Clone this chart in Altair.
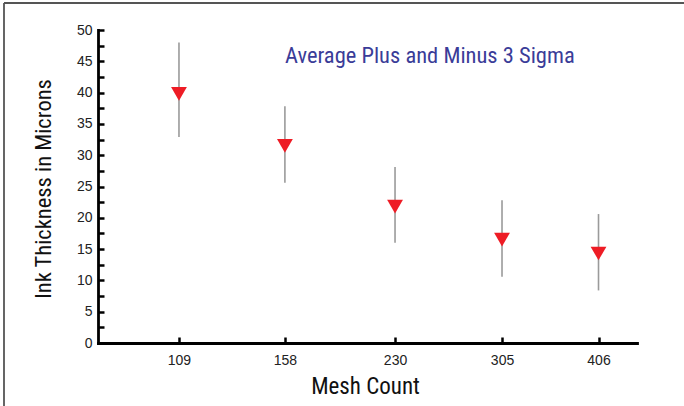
import json
import altair as alt
import pandas as pd

# ---- data ----
mesh_labels = ["109", "158", "230", "305", "406"]
x_slots = [1.0, 2.01, 3.06, 4.08, 5.0]          # category slot positions
avg = [39.8, 31.5, 21.8, 16.5, 14.3]
low = [32.9, 25.6, 16.0, 10.6, 8.4]
high = [48.0, 37.8, 28.1, 22.8, 20.6]
y_label_values = [0, 5, 10, 15, 20, 25, 30, 35, 40, 45, 50]
y_tick_values = [v / 2 for v in range(0, 101, 5)]

df = pd.DataFrame({"slot": x_slots, "mesh": mesh_labels, "avg": avg, "low": low, "high": high})

W, H = 539, 313
FONT = "Liberation Sans Narrow, Arial Narrow, Roboto Condensed, Liberation Sans, sans-serif"
LFONT = "Liberation Sans, Arial, sans-serif"

xscale = alt.Scale(domain=[0.228, 5.367], nice=False, zero=False)
yscale = alt.Scale(domain=[0, 50], nice=False)

label_expr = f"{json.dumps(mesh_labels)}[round(datum.value) - 1]"

base = alt.Chart(df)

whiskers = base.mark_rule(color="#9a9a9a", strokeWidth=1.6).encode(
    x=alt.X("slot:Q", scale=xscale,
            axis=alt.Axis(orient="top", offset=-H, values=x_slots, labels=False,
                          ticks=True, tickSize=6, tickWidth=2.5, tickColor="#000",
                          domain=False, grid=False, title=None)),
    y=alt.Y("low:Q", scale=yscale,
            axis=alt.Axis(orient="right", offset=-W, values=y_tick_values, labels=False,
                          ticks=True, tickSize=6, tickWidth=2.5, tickColor="#000",
                          domain=False, grid=False, title=None)),
    y2="high:Q",
)

points = base.mark_point(shape="triangle-down", filled=True, size=250,
                         color="#ee1c25", opacity=1).encode(
    x=alt.X("slot:Q", scale=xscale,
            axis=alt.Axis(orient="bottom", values=x_slots, labelExpr=label_expr,
                          ticks=False, tickSize=0, domain=True, domainColor="#000",
                          domainWidth=2.8, domainCap="square", grid=False,
                          labelFont=LFONT, labelFontSize=14, labelColor="#222",
                          labelPadding=10, labelBaseline="top",
                          title="Mesh Count", titleFont=FONT, titleFontSize=23,
                          titleFontWeight="normal", titleColor="#111",
                          titleX=267, titleY=50, titleBaseline="alphabetic",
                          titleAlign="center")),
    y=alt.Y("avg:Q", scale=yscale,
            axis=alt.Axis(orient="left", values=y_label_values, format="d",
                          ticks=False, tickSize=0, domain=True, domainColor="#000",
                          domainWidth=2.8, domainCap="square", grid=False,
                          labelFont=LFONT, labelFontSize=14, labelColor="#222",
                          labelPadding=6,
                          title="Ink Thickness in Microns", titleFont=FONT,
                          titleFontSize=22.5, titleFontWeight="normal", titleColor="#111",
                          titleAngle=270, titleX=-55, titleY=158.5,
                          titleBaseline="middle", titleAlign="center")),
)

note = alt.Chart(pd.DataFrame({"t": ["Average Plus and Minus 3 Sigma"]})).mark_text(
    font=FONT, fontSize=22.5, color="#3a3c98", align="left", baseline="alphabetic"
).encode(x=alt.value(187), y=alt.value(33), text="t:N")

frame_left = alt.Chart(pd.DataFrame({"a": [0]})).mark_rule(color="#555", strokeWidth=1.8).encode(
    x=alt.value(-94), y=alt.value(-27), y2=alt.value(380))
frame_top = alt.Chart(pd.DataFrame({"a": [0]})).mark_rule(color="#555", strokeWidth=1.8).encode(
    y=alt.value(-27), x=alt.value(-94), x2=alt.value(590))

chart = alt.layer(whiskers, points, note, frame_left, frame_top).resolve_axis(
    x="independent", y="independent"
).properties(
    width=W, height=H,
    autosize=alt.AutoSizeParams(type="none"),
    padding={"left": 98, "top": 30, "right": 47, "bottom": 63},
).configure(background="white").configure_view(strokeWidth=0, stroke="transparent")

chart.save("out.html", embed_options={"renderer": "svg", "actions": False})
